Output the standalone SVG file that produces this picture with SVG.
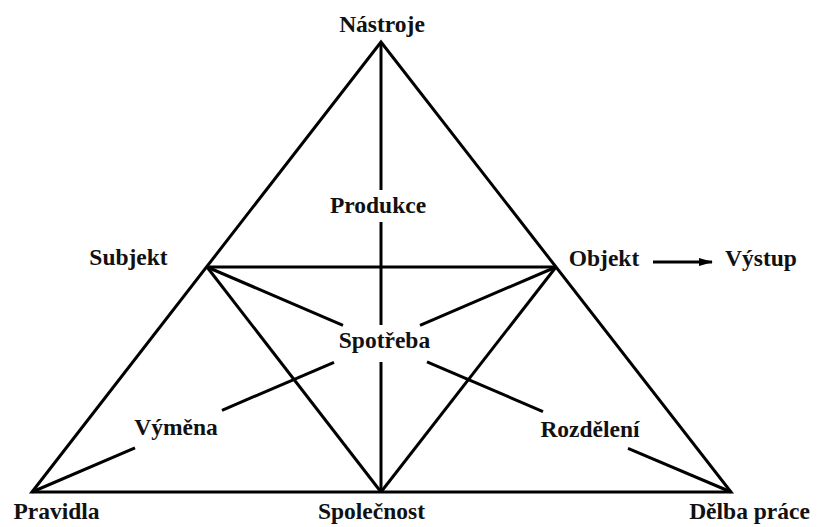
<svg xmlns="http://www.w3.org/2000/svg" width="817" height="527" viewBox="0 0 817 527">
<defs>
<style>
.ln{stroke:#000;stroke-width:3;fill:none;stroke-linecap:butt;stroke-linejoin:miter}
.t{font-family:"Liberation Serif","Times New Roman",serif;font-weight:bold;font-size:23.5px;fill:#111;text-anchor:middle}
</style>
<marker id="ah" markerWidth="14" markerHeight="10" refX="13" refY="5" orient="auto" markerUnits="userSpaceOnUse">
<path d="M0,1 L14,5 L0,9 Z" fill="#000"/>
</marker>
</defs>
<rect width="817" height="527" fill="#fff"/>
<g id="connectors">
<path class="ln" d="M32,492 L381,42 L731,492 Z"/>
<line class="ln" x1="207" y1="267" x2="556" y2="267"/>
<line class="ln" x1="207" y1="267" x2="381" y2="492"/>
<line class="ln" x1="556" y1="267" x2="381" y2="492"/>
<line class="ln" x1="381" y1="42" x2="381" y2="190"/>
<line class="ln" x1="381" y1="222" x2="381" y2="325"/>
<line class="ln" x1="381" y1="362" x2="381" y2="492"/>
<line class="ln" x1="207" y1="267" x2="343" y2="325.3"/>
<line class="ln" x1="427" y1="361.9" x2="543" y2="411.6"/>
<line class="ln" x1="628" y1="448.3" x2="731" y2="492"/>
<line class="ln" x1="556" y1="267" x2="420" y2="325.3"/>
<line class="ln" x1="334" y1="362.3" x2="222" y2="410.3"/>
<line class="ln" x1="135" y1="447.9" x2="32" y2="492"/>
<line class="ln" x1="653" y1="262" x2="712" y2="262" stroke-width="1.8" marker-end="url(#ah)"/>
</g>
<g id="n-nastroje"><text class="t" x="382" y="32">Nástroje</text></g>
<g id="n-subjekt"><text class="t" x="128.5" y="265">Subjekt</text></g>
<g id="n-objekt"><text class="t" x="604" y="266">Objekt</text></g>
<g id="n-vystup"><text class="t" x="761" y="266">Výstup</text></g>
<g id="n-produkce"><text class="t" x="378" y="213">Produkce</text></g>
<g id="n-spotreba"><text class="t" x="384.5" y="348">Spotřeba</text></g>
<g id="n-vymena"><text class="t" x="176" y="435">Výměna</text></g>
<g id="n-rozdeleni"><text class="t" x="590" y="437">Rozdělení</text></g>
<g id="n-pravidla"><text class="t" x="56.5" y="519">Pravidla</text></g>
<g id="n-spolecnost"><text class="t" x="371.5" y="519">Společnost</text></g>
<g id="n-delba"><text class="t" x="749.5" y="519">Dělba práce</text></g>
</svg>
